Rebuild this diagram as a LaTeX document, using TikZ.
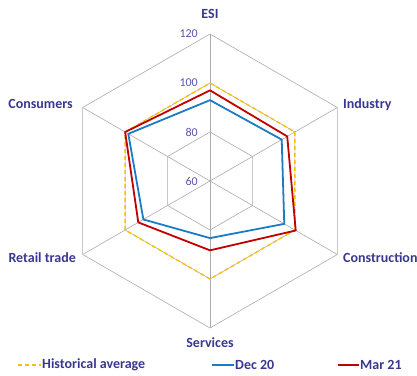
\documentclass[tikz,border=0pt]{standalone}
\usepackage{fontspec}
\setmainfont{Carlito}
\usepackage{tikz}
\usepackage{color}

\definecolor{labblue}{HTML}{38388F}
\definecolor{numblue}{HTML}{5656AA}
\definecolor{gridgray}{HTML}{ABABAB}
\definecolor{histyellow}{HTML}{FFC000}
\definecolor{decblue}{HTML}{1B7CC4}
\definecolor{marred}{HTML}{C00000}

\tikzset{
	gridline/.style={draw=gridgray, line width=0.6pt},
	catlabel/.style={text=labblue, font=\bfseries\fontsize{14}{16}\selectfont, inner sep=1pt},
	numlabel/.style={text=numblue, font=\fontsize{12}{14}\selectfont, anchor=east, inner sep=1pt},
	histline/.style={histyellow, line width=1.4pt, dash pattern=on 4pt off 3pt},
	decline/.style={decblue, line width=1.8pt, line join=round},
	marline/.style={marred, line width=1.8pt, line join=round}
}

\begin{document}
\begin{tikzpicture}[x=1pt, y=1pt]
			\useasboundingbox (0,0) rectangle (417,375);
			% radar web, one unit = 1 index point, centre = 60
			\begin{scope}[shift={(210,194)}, x=2.45pt, y=2.45pt]
			\coordinate (o) at (0,0);
			\coordinate (vesi) at (90:60);
			\coordinate (vind) at (30:60);
			\coordinate (vcon) at (-30:60);
			\coordinate (vser) at (-90:60);
			\coordinate (vret) at (-150:60);
			\coordinate (vcns) at (150:60);
			\draw[gridline] (90:20)--(30:20)--(-30:20)--(-90:20)--(-150:20)--(150:20)--cycle;
			\draw[gridline] (90:40)--(30:40)--(-30:40)--(-90:40)--(-150:40)--(150:40)--cycle;
			\draw[gridline] (vesi)--(vind)--(vcon)--(vser)--(vret)--(vcns)--cycle;
			\draw[gridline] (o)--(vesi);
			\draw[gridline] (o)--(vind);
			\draw[gridline] (o)--(vcon);
			\draw[gridline] (o)--(vser);
			\draw[gridline] (o)--(vret);
			\draw[gridline] (o)--(vcns);
			% scale
			\node[numlabel] (n60) at (-4.5,0) {60};
			\node[numlabel] (n80) at (-4.5,20) {80};
			\node[numlabel] (n100) at (-4.5,40) {100};
			\node[numlabel] (n120) at (-4.5,60) {120};
			% series
			\draw[histline] (90:40)--(30:40)--(-30:40)--(-90:40)--(-150:40)--(150:40)--cycle;
			\draw[decline] (90:33)--(30:33.8)--(-30:35)--(-90:23.3)--(-150:31.4)--(150:38.5)--cycle;
			\draw[marline] (90:37)--(30:36.4)--(-30:40.4)--(-90:28.3)--(-150:33.8)--(150:40)--cycle;
			\end{scope}
			% categories
			\node[catlabel, anchor=south] (esi) at (210,355) {ESI};
			\node[catlabel, anchor=west] (industry) at (342,270) {Industry};
			\node[catlabel, anchor=west] (construction) at (342,117) {Construction};
			\node[catlabel, anchor=north] (services) at (210,39) {Services};
			\node[catlabel, anchor=east] (retail) at (77,117) {Retail trade};
			\node[catlabel, anchor=east] (consumers) at (74,271) {Consumers};
			% legend
			\node[catlabel, anchor=west] (hist) at (41,10) {Historical average};
			\node[catlabel, anchor=west] (dec) at (234,10) {Dec 20};
			\node[catlabel, anchor=west] (mar) at (359,10) {Mar 21};
			\coordinate (hists) at (18,10);
			\coordinate (decs) at (212,10);
			\coordinate (mars) at (338,10);
			\draw[histline] (hists)--(hist.west);
			\draw[decline] (decs)--(dec.west);
			\draw[marline] (mars)--(mar.west);
		\end{tikzpicture}
\end{document}
